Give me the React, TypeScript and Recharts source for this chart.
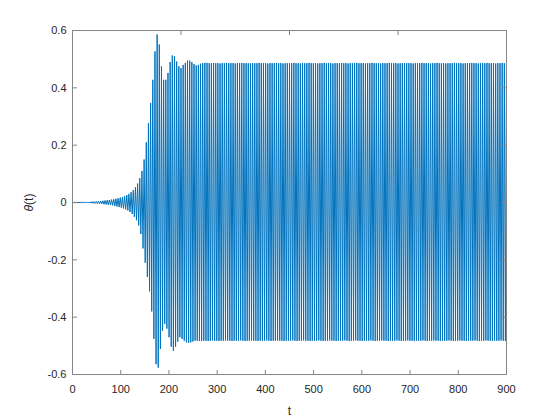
import React from "react";
import { LineChart, Line, XAxis, YAxis, Label } from "recharts";

// oscillation half period (t units), read from stripe spacing
const HALF_PERIOD = 2.25;

// positive peaks, one per cycle (t = 0, 4.5, 9, ...)
const upperPeaks = [
  0, 0.001, 0.001, 0.001, 0.001, 0.002, 0.002, 0.002, 0.002, 0.003,
  0.003, 0.004, 0.004, 0.005, 0.006, 0.007, 0.008, 0.009, 0.01, 0.011,
  0.013, 0.015, 0.017, 0.019, 0.022, 0.026, 0.03, 0.036, 0.043, 0.053,
  0.066, 0.085, 0.11, 0.15, 0.21, 0.277, 0.347, 0.428, 0.527, 0.586,
  0.551, 0.475, 0.428, 0.428, 0.452, 0.49, 0.513, 0.51, 0.492, 0.475,
  0.469, 0.48, 0.487, 0.495, 0.495, 0.49, 0.483, 0.478, 0.48, 0.484,
  0.486, 0.487, 0.487, 0.486, 0.486, 0.487, 0.486, 0.486, 0.485, 0.486,
  0.486, 0.487, 0.486, 0.486, 0.486, 0.485, 0.486, 0.486, 0.487, 0.486,
  0.486, 0.486, 0.485, 0.486, 0.486, 0.486, 0.487, 0.486, 0.486, 0.486,
  0.485, 0.486, 0.486, 0.486, 0.487, 0.486, 0.486, 0.485, 0.486, 0.486,
  0.486, 0.486, 0.487, 0.486, 0.486, 0.485, 0.486, 0.486, 0.486, 0.487,
  0.486, 0.486, 0.486, 0.485, 0.486, 0.486, 0.487, 0.486, 0.486, 0.486,
  0.485, 0.486, 0.486, 0.486, 0.487, 0.486, 0.486, 0.485, 0.486, 0.486,
  0.486, 0.487, 0.486, 0.486, 0.486, 0.485, 0.486, 0.486, 0.487, 0.486,
  0.486, 0.486, 0.485, 0.486, 0.486, 0.486, 0.487, 0.486, 0.486, 0.486,
  0.485, 0.486, 0.486, 0.486, 0.487, 0.486, 0.486, 0.485, 0.486, 0.486,
  0.486, 0.487, 0.486, 0.486, 0.486, 0.485, 0.486, 0.486, 0.487, 0.486,
  0.486, 0.486, 0.485, 0.486, 0.486, 0.486, 0.487, 0.486, 0.486, 0.486,
  0.485, 0.486, 0.486, 0.486, 0.487, 0.486, 0.486, 0.485, 0.486, 0.486,
  0.486, 0.487, 0.486, 0.486, 0.486, 0.485, 0.486, 0.486, 0.487, 0.486,
  0.485,
];

// negative peaks, half a period after each positive one
const lowerPeaks = [
  -0.0005, -0.001, -0.001, -0.001, -0.001, -0.002, -0.002, -0.002, -0.002, -0.003,
  -0.003, -0.004, -0.004, -0.005, -0.006, -0.007, -0.008, -0.009, -0.01, -0.012,
  -0.014, -0.016, -0.018, -0.021, -0.024, -0.028, -0.033, -0.04, -0.05, -0.062,
  -0.08, -0.11, -0.16, -0.21, -0.26, -0.31, -0.38, -0.476, -0.564, -0.576,
  -0.511, -0.447, -0.424, -0.44, -0.47, -0.503, -0.517, -0.503, -0.485, -0.47,
  -0.476, -0.482, -0.488, -0.49, -0.488, -0.485, -0.482, -0.482, -0.483, -0.483,
  -0.482, -0.482, -0.483, -0.482, -0.481, -0.482, -0.482, -0.483, -0.482, -0.482,
  -0.481, -0.482, -0.482, -0.483, -0.482, -0.482, -0.482, -0.481, -0.482, -0.483,
  -0.482, -0.482, -0.481, -0.482, -0.482, -0.483, -0.482, -0.482, -0.482, -0.481,
  -0.482, -0.483, -0.482, -0.482, -0.481, -0.482, -0.482, -0.483, -0.482, -0.482,
  -0.482, -0.481, -0.482, -0.483, -0.482, -0.482, -0.481, -0.482, -0.482, -0.483,
  -0.482, -0.482, -0.482, -0.481, -0.482, -0.483, -0.482, -0.482, -0.481, -0.482,
  -0.482, -0.483, -0.482, -0.482, -0.482, -0.481, -0.482, -0.483, -0.482, -0.482,
  -0.481, -0.482, -0.482, -0.483, -0.482, -0.482, -0.482, -0.481, -0.482, -0.483,
  -0.482, -0.482, -0.481, -0.482, -0.482, -0.483, -0.482, -0.482, -0.482, -0.481,
  -0.482, -0.483, -0.482, -0.482, -0.481, -0.482, -0.482, -0.483, -0.482, -0.482,
  -0.482, -0.481, -0.482, -0.483, -0.482, -0.482, -0.481, -0.482, -0.482, -0.483,
  -0.482, -0.482, -0.482, -0.481, -0.482, -0.483, -0.482, -0.482, -0.481, -0.482,
  -0.482, -0.483, -0.482, -0.482, -0.482, -0.481, -0.482, -0.483, -0.482, -0.482,
  -0.481, -0.482, -0.482, -0.483, -0.482, -0.482, -0.482, -0.481, -0.482, -0.483,
];

const xTicks = [0, 100, 200, 300, 400, 500, 600, 700, 800, 900];
const yTicks = [-0.6, -0.4, -0.2, 0, 0.2, 0.4, 0.6];
const yTickLabels = ["-0.6", "-0.4", "-0.2", "0", "0.2", "0.4", "0.6"];

const data: { t: number; theta: number }[] = [];
for (let i = 0; i < upperPeaks.length; i++) {
  data.push({ t: 2 * i * HALF_PERIOD, theta: upperPeaks[i] });
  if (i < lowerPeaks.length) data.push({ t: (2 * i + 1) * HALF_PERIOD, theta: lowerPeaks[i] });
}

const FONT = "'Liberation Sans', Arial, Helvetica, sans-serif";
const TEXT = "#262626";
const FRAME = "#868686";
const TICK_LEN = 4.5;

// custom ticks: tickSize is 0, so (x, y) is the label anchor and the axis sits tickMargin away
function BottomTick({ x, y, payload }: any) {
  return (
    <g>
      <line x1={x} x2={x} y1={y - 8} y2={y - 8 - TICK_LEN} stroke={FRAME} />
      <text x={x} y={y + 10} textAnchor="middle" fontSize={11} fontFamily={FONT} fill={TEXT}>
        {payload.value}
      </text>
    </g>
  );
}

function LeftTick({ x, y, payload, index }: any) {
  const i = yTicks.indexOf(payload.value);
  return (
    <g>
      <line x1={x + 6} x2={x + 6 + TICK_LEN} y1={y} y2={y} stroke={FRAME} />
      <text x={x} y={y} dy="0.35em" textAnchor="end" fontSize={11} fontFamily={FONT} fill={TEXT}>
        {yTickLabels[i >= 0 ? i : index]}
      </text>
    </g>
  );
}

function TopTick({ x, y }: any) {
  return <line x1={x} x2={x} y1={y} y2={y + TICK_LEN} stroke={FRAME} />;
}

function RightTick({ x, y }: any) {
  return <line x1={x} x2={x - TICK_LEN} y1={y} y2={y} stroke={FRAME} />;
}

export default function App() {
  return (
    <div style={{ position: "absolute", left: 0, top: 0, background: "#fff", fontFamily: FONT }}>
      <LineChart
        width={560}
        height={420}
        data={data}
        margin={{ top: 29.5, right: 52.5, bottom: 44.5, left: 71.5 }}
      >
        <XAxis
          dataKey="t"
          type="number"
          domain={[0, 900]}
          ticks={xTicks}
          allowDataOverflow
          height={1}
          tickSize={0}
          tickMargin={8}
          tickLine={false}
          axisLine={{ stroke: FRAME }}
          tick={<BottomTick />}
          interval={0}
        >
          <Label
            content={({ viewBox }: any) => (
              <text
                x={viewBox.x + viewBox.width / 2}
                y={viewBox.y + 40}
                textAnchor="middle"
                fontSize={12}
                fontFamily={FONT}
                fill={TEXT}
              >
                t
              </text>
            )}
          />
        </XAxis>
        <XAxis
          xAxisId="top"
          orientation="top"
          type="number"
          domain={[0, 900]}
          ticks={xTicks}
          allowDataOverflow
          height={1}
          tickSize={0}
          tickMargin={0}
          tickLine={false}
          axisLine={{ stroke: FRAME }}
          tick={<TopTick />}
          interval={0}
        />
        <YAxis
          type="number"
          domain={[-0.6, 0.6]}
          ticks={yTicks}
          allowDataOverflow
          width={1}
          tickSize={0}
          tickMargin={6}
          tickLine={false}
          axisLine={{ stroke: FRAME }}
          tick={<LeftTick />}
          interval={0}
        >
          <Label
            content={({ viewBox }: any) => {
              const cx = viewBox.x - 39;
              const cy = viewBox.y + viewBox.height / 2;
              return (
                <text
                  x={cx}
                  y={cy}
                  transform={`rotate(-90 ${cx} ${cy})`}
                  textAnchor="middle"
                  fontSize={12}
                  fontFamily={FONT}
                  fill={TEXT}
                >
                  <tspan fontStyle="italic">θ</tspan>(t)
                </text>
              );
            }}
          />
        </YAxis>
        <YAxis
          yAxisId="right"
          orientation="right"
          type="number"
          domain={[-0.6, 0.6]}
          ticks={yTicks}
          allowDataOverflow
          width={1}
          tickSize={0}
          tickMargin={0}
          tickLine={false}
          axisLine={{ stroke: FRAME }}
          tick={<RightTick />}
          interval={0}
        />
        <Line
          type="linear"
          dataKey="theta"
          stroke="#0072BD"
          strokeWidth={1}
          dot={false}
          activeDot={false}
          isAnimationActive={false}
        />
      </LineChart>
    </div>
  );
}
